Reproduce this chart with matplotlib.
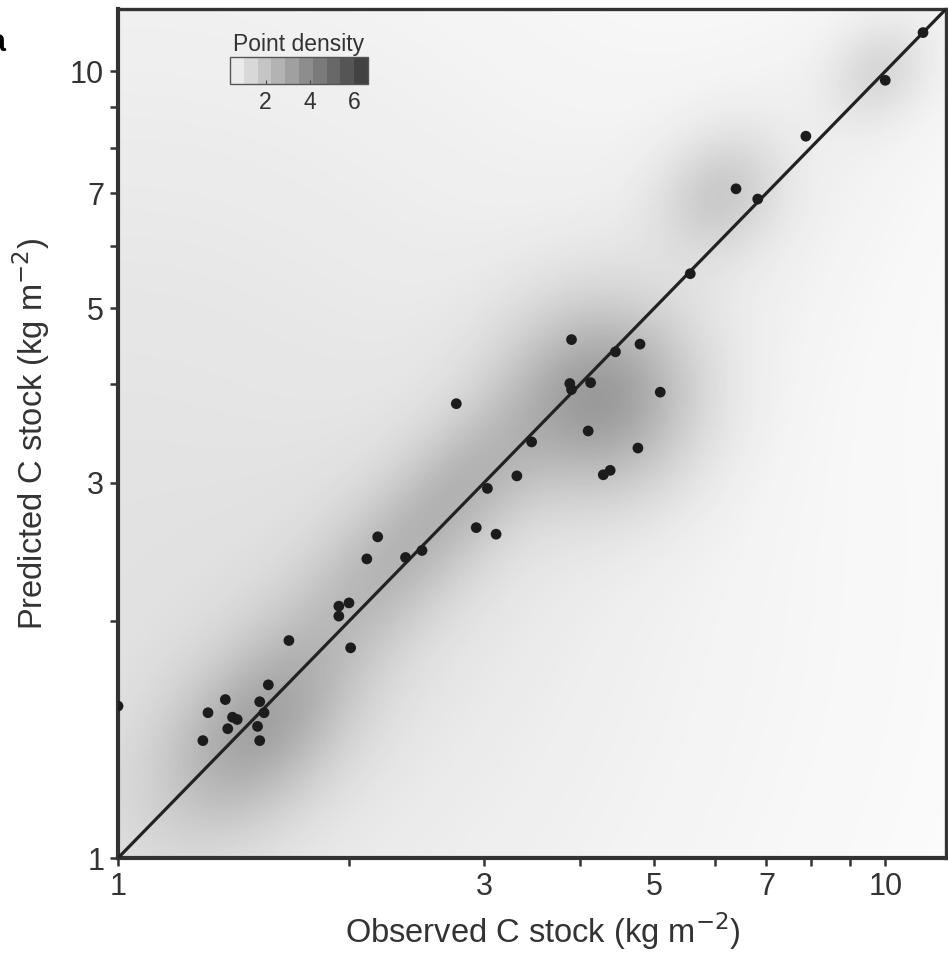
import numpy as np
import matplotlib
matplotlib.use('Agg')
import matplotlib.pyplot as plt
from matplotlib.colors import LinearSegmentedColormap, Normalize
from matplotlib.cm import ScalarMappable
from matplotlib.ticker import FixedLocator, NullFormatter, NullLocator

plt.rcParams['font.family'] = ['Liberation Sans', 'DejaVu Sans']

# observed / predicted C stock (kg m-2)
observed = [1.00, 1.29, 1.31, 1.38, 1.39, 1.41, 1.43, 1.53, 1.52, 1.53, 1.55,
            1.57, 1.67, 1.94, 1.94, 2.00, 2.01, 2.11, 2.18, 2.37, 2.49, 2.76,
            2.93, 3.03, 3.11, 3.31, 3.46, 3.90, 3.88, 3.90, 4.10, 4.13, 4.29,
            4.38, 4.45, 4.79, 4.76, 5.09, 5.57, 6.39, 6.82, 7.88, 10.0, 11.2]
predicted = [1.56, 1.41, 1.53, 1.59, 1.46, 1.51, 1.50, 1.41, 1.47, 1.58, 1.53,
             1.66, 1.89, 2.03, 2.09, 2.11, 1.85, 2.40, 2.56, 2.41, 2.46, 3.78,
             2.63, 2.95, 2.58, 3.06, 3.38, 4.56, 4.01, 3.94, 3.49, 4.02, 3.07,
             3.11, 4.40, 4.50, 3.32, 3.91, 5.53, 7.09, 6.88, 8.27, 9.74, 11.2]

# density field: blobs along the 1:1 band (centre, spread in decades along / across, height)
blob_x = [1.0, 3.0, 1.52, 2.30, 2.95, 4.30, 6.10, 9.8]
blob_y = [2.5, 3.0, 1.45, 2.40, 3.15, 3.85, 7.00, 10.0]
blob_along = [0.6, 2.0, 0.10, 0.12, 0.08, 0.085, 0.06, 0.05]
blob_across = [0.6, 0.12, 0.065, 0.055, 0.05, 0.085, 0.05, 0.04]
blob_height = [0.95, 0.3, 1.9, 1.3, 0.8, 2.5, 1.2, 0.9]

tick_vals = [1, 2, 3, 4, 5, 6, 7, 8, 9, 10]
tick_labels = ['1', '', '3', '', '5', '', '7', '', '', '10']
density_ticks = [2, 4, 6]

fig = plt.figure(figsize=(9.48, 9.59), dpi=100)
ax = fig.add_axes([0.1245, 0.1053, 0.8734, 0.8853])

lim = (1, 12)
lg = np.linspace(0, np.log10(lim[1]), 400)
LX, LY = np.meshgrid(lg, lg)
Z = np.zeros_like(LX)
for cx, cy, sa, sc, h in zip(blob_x, blob_y, blob_along, blob_across, blob_height):
    dx = LX - np.log10(cx)
    dy = LY - np.log10(cy)
    u = (dx + dy) / np.sqrt(2)
    w = (dy - dx) / np.sqrt(2)
    Z += h * np.exp(-0.5 * ((u / sa) ** 2 + (w / sc) ** 2))

cmap = LinearSegmentedColormap.from_list('dens', ['#ffffff', '#2e2e2e'])
norm = Normalize(0, 7)
ax.pcolormesh(10 ** LX, 10 ** LY, Z, cmap=cmap, norm=norm, shading='auto',
              rasterized=True)

ax.plot(lim, lim, color='#222222', lw=2.3, zorder=3)
ax.scatter(observed, predicted, s=60, color='#1c1c1c', zorder=4,
           edgecolors='none', clip_on=True)

ax.set_xscale('log')
ax.set_yscale('log')
ax.set_xlim(lim)
ax.set_ylim(lim)
for axis in (ax.xaxis, ax.yaxis):
    axis.set_major_locator(FixedLocator(tick_vals))
    axis.set_minor_locator(NullLocator())
    axis.set_minor_formatter(NullFormatter())
ax.set_xticklabels(tick_labels)
ax.set_yticklabels(tick_labels)
ax.tick_params(direction='out', length=6, width=1.8, colors='#333333',
               labelsize=22, labelcolor='#333333', pad=4)

for side in ['left', 'bottom']:
    ax.spines[side].set_linewidth(3)
for side in ['top', 'right']:
    ax.spines[side].set_linewidth(2.4)
for sp in ax.spines.values():
    sp.set_color('#333333')

ax.set_xlabel('Observed C stock (kg m$^{-2}$)', fontsize=23.5, color='#333333')
ax.set_ylabel('Predicted C stock (kg m$^{-2}$)', fontsize=23.5, color='#333333')
ax.xaxis.set_label_coords(0.513, -0.062)
ax.yaxis.set_label_coords(-0.08, 0.5)

# colour bar inset
cax = fig.add_axes([0.2426, 0.9124, 0.1456, 0.0282])
sm = ScalarMappable(norm=norm, cmap=cmap)
cb = fig.colorbar(sm, cax=cax, orientation='horizontal',
                  boundaries=np.linspace(0.4, 6.6, 11))
cb.set_ticks(density_ticks)
cb.outline.set_edgecolor('#555555')
cb.outline.set_linewidth(1)
cax.tick_params(direction='in', length=3, width=0.8, colors='#444444',
                labelsize=16.5, labelcolor='#333333', pad=5)
cax.set_title('Point density', fontsize=16.5, color='#333333', pad=4)

# panel letter, cut by the figure edge
fig.text(-0.012, 0.955, 'a', fontsize=22, fontweight='bold', color='black',
         va='center')

fig.savefig('out.png', dpi=100)
